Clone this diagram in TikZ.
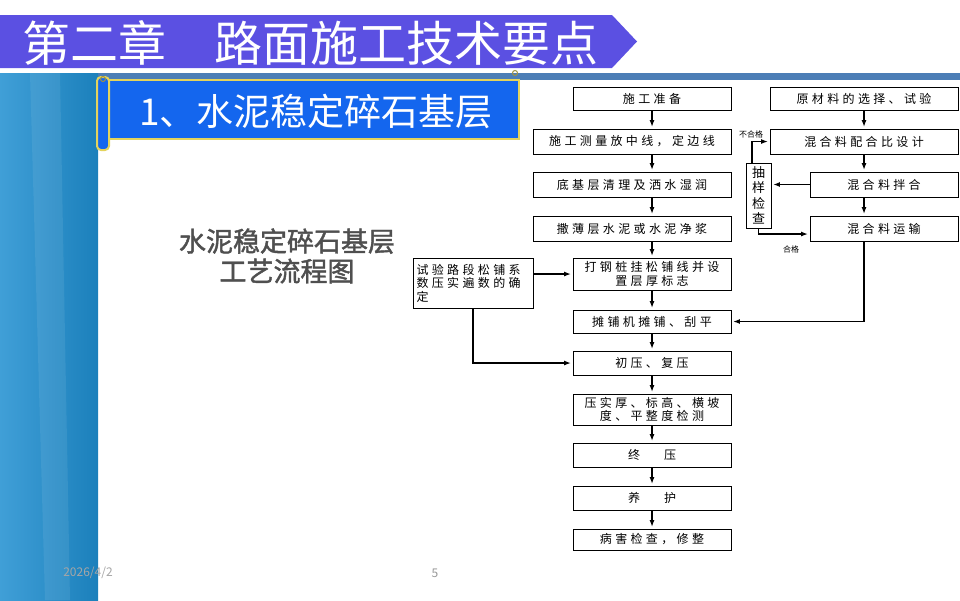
\documentclass[tikz,border=0pt]{standalone}
\usepackage{fontspec}
\setmainfont{Noto Sans CJK SC}
\newfontfamily\flowfont{Noto Sans CJK SC}[LetterSpace=28]
\newfontfamily\capfont{Noto Sans CJK SC}[FakeBold=1.6]
\usepackage{xcolor}
\usepackage{tikz}
\usetikzlibrary{positioning,arrows.meta}

\definecolor{bannerblue}{HTML}{5B50E2}
\definecolor{panelblue}{HTML}{1E8ED0}
\definecolor{stripblue}{HTML}{4C7EB6}
\definecolor{scrollblue}{HTML}{1466EE}
\definecolor{scrollgold}{HTML}{E4D35C}
\definecolor{titlegray}{HTML}{4F4F4F}

\begin{document}
\begin{tikzpicture}[x=1pt,y=-1pt,
  flowbox/.style={draw,line width=0.9pt,fill=white,inner sep=0pt,align=center,
    font=\flowfont\fontsize{12}{13.5}\selectfont},
  arr/.style={-{Latex[length=7pt,width=5pt]},line width=1.4pt,shorten >=1.5pt},
  tag/.style={font=\fontsize{8}{9}\selectfont,inner sep=0pt}]
\useasboundingbox (0,0) rectangle (960,600);
\fill[white] (0,0) rectangle (960,600);

% slide background
\fill[bannerblue] (0,15) -- (612,15) -- (637,41.5) -- (612,68) -- (0,68) -- cycle;
\node[anchor=west,text=white,inner sep=0pt,font=\fontsize{48}{52}\selectfont] (title) at (22,43) {第二章　路面施工技术要点};
\fill[stripblue] (98,73) rectangle (960,80);
\shade[left color=panelblue!85!white,right color=panelblue!90!black] (0,73) rectangle (98,600);
\fill[white,opacity=0.08] (30,73) -- (60,73) -- (70,600) -- (45,600) -- cycle;

% subtitle scroll
\draw[scrollgold,line width=2pt,fill=scrollblue] (105,80) rectangle (519,139);
\draw[scrollgold,line width=2pt,fill=scrollblue,rounded corners=4pt] (97,77) rectangle (109,150);
\draw[scrollgold!70!black,line width=1pt] (103,79) circle (2.5);
\draw[scrollgold!70!black,line width=1pt] (515,73) circle (2.5);
\node[anchor=west,text=white,inner sep=0pt,font=\fontsize{37}{40}\selectfont] (sub) at (139,111) {1、水泥稳定碎石基层};

% chart caption
\node[text=titlegray,align=center,font=\capfont\fontsize{27}{30}\selectfont] (caption) at (287,256) {水泥稳定碎石基层\\工艺流程图};

% main column
\node[flowbox,minimum width=158pt,minimum height=23pt] (prep) at (652,98.5) {施工准备};
\node[flowbox,minimum width=198pt,minimum height=25pt] (survey) at (632,141.5) {施工测量放中线，定边线};
\node[flowbox,minimum width=198pt,minimum height=25pt] (clean) at (632,184.5) {底基层清理及洒水湿润};
\node[flowbox,minimum width=198pt,minimum height=25pt] (cement) at (632,228.5) {撒薄层水泥或水泥净浆};
\node[flowbox,minimum width=158pt,minimum height=32pt] (stake) at (652,274) {打钢桩挂松铺线并设\\置层厚标志};
\node[flowbox,minimum width=158pt,minimum height=23pt] (pave) at (652,321.5) {摊铺机摊铺、刮平};
\node[flowbox,minimum width=158pt,minimum height=24pt] (roll) at (652,363) {初压、复压};
\node[flowbox,minimum width=158pt,minimum height=31pt] (measure) at (652,409.5) {压实厚、标高、横坡\\度、平整度检测};
\node[flowbox,minimum width=158pt,minimum height=24pt] (final) at (652,455) {终\hspace{24pt}压};
\node[flowbox,minimum width=158pt,minimum height=24pt] (cure) at (652,498) {养\hspace{24pt}护};
\node[flowbox,minimum width=158pt,minimum height=21pt] (repair) at (652,539.5) {病害检查，修整};

% material column
\node[flowbox,minimum width=188pt,minimum height=23pt] (raw) at (864,98.5) {原材料的选择、试验};
\node[flowbox,minimum width=188pt,minimum height=25pt] (mix) at (864,141.5) {混合料配合比设计};
\node[flowbox,minimum width=148pt,minimum height=25pt] (blend) at (884,184.5) {混合料拌合};
\node[flowbox,minimum width=148pt,minimum height=25pt] (haul) at (884,228.5) {混合料运输};
\node[flowbox,minimum width=25pt,minimum height=65pt,font=\fontsize{13}{15.5}\selectfont] (sample) at (758.5,195.5) {抽\\样\\检\\查};
\node[flowbox,minimum width=120pt,minimum height=50pt,text width=113pt,align=left] (trial) at (473,283) {试验路段松铺系\\数压实遍数的确\\定};

\node[tag] (fail) at (751,134) {不合格};
\node[tag] (pass) at (791,249) {合格};

% connectors
\draw[arr] (prep.south) -- (prep.south |- survey.north);
\draw[arr] (prep.south |- survey.south) -- (prep.south |- clean.north);
\draw[arr] (prep.south |- clean.south) -- (prep.south |- cement.north);
\draw[arr] (prep.south |- cement.south) -- (stake.north);
\draw[arr] (stake.south) -- (pave.north);
\draw[arr] (pave.south) -- (roll.north);
\draw[arr] (roll.south) -- (measure.north);
\draw[arr] (measure.south) -- (final.north);
\draw[arr] (final.south) -- (cure.north);
\draw[arr] (cure.south) -- (repair.north);

\draw[arr] (raw.south) -- (mix.north);
\draw[arr] (mix.south) -- (mix.south |- blend.north);
\draw[arr] (mix.south |- blend.south) -- (mix.south |- haul.north);
\draw[arr] (mix.south |- haul.south) |- (pave.east);
\draw[arr] (blend.west) -- (blend.west -| sample.east);
\draw[arr] ([xshift=-6.5pt]sample.north) |- (mix.west);
\draw[arr] (sample.south) |- ([yshift=-5.5pt]haul.west);

\draw[arr] (trial.east |- stake.west) -- (stake.west);
\draw[arr] (trial.south) |- (roll.west);

% footer
\node[text=gray!70,font=\fontsize{12}{14}\selectfont] (date) at (88,573) {2026/4/2};
\node[text=gray!80,font=\fontsize{12}{14}\selectfont] (page) at (435,573) {5};
\end{tikzpicture}
\end{document}
